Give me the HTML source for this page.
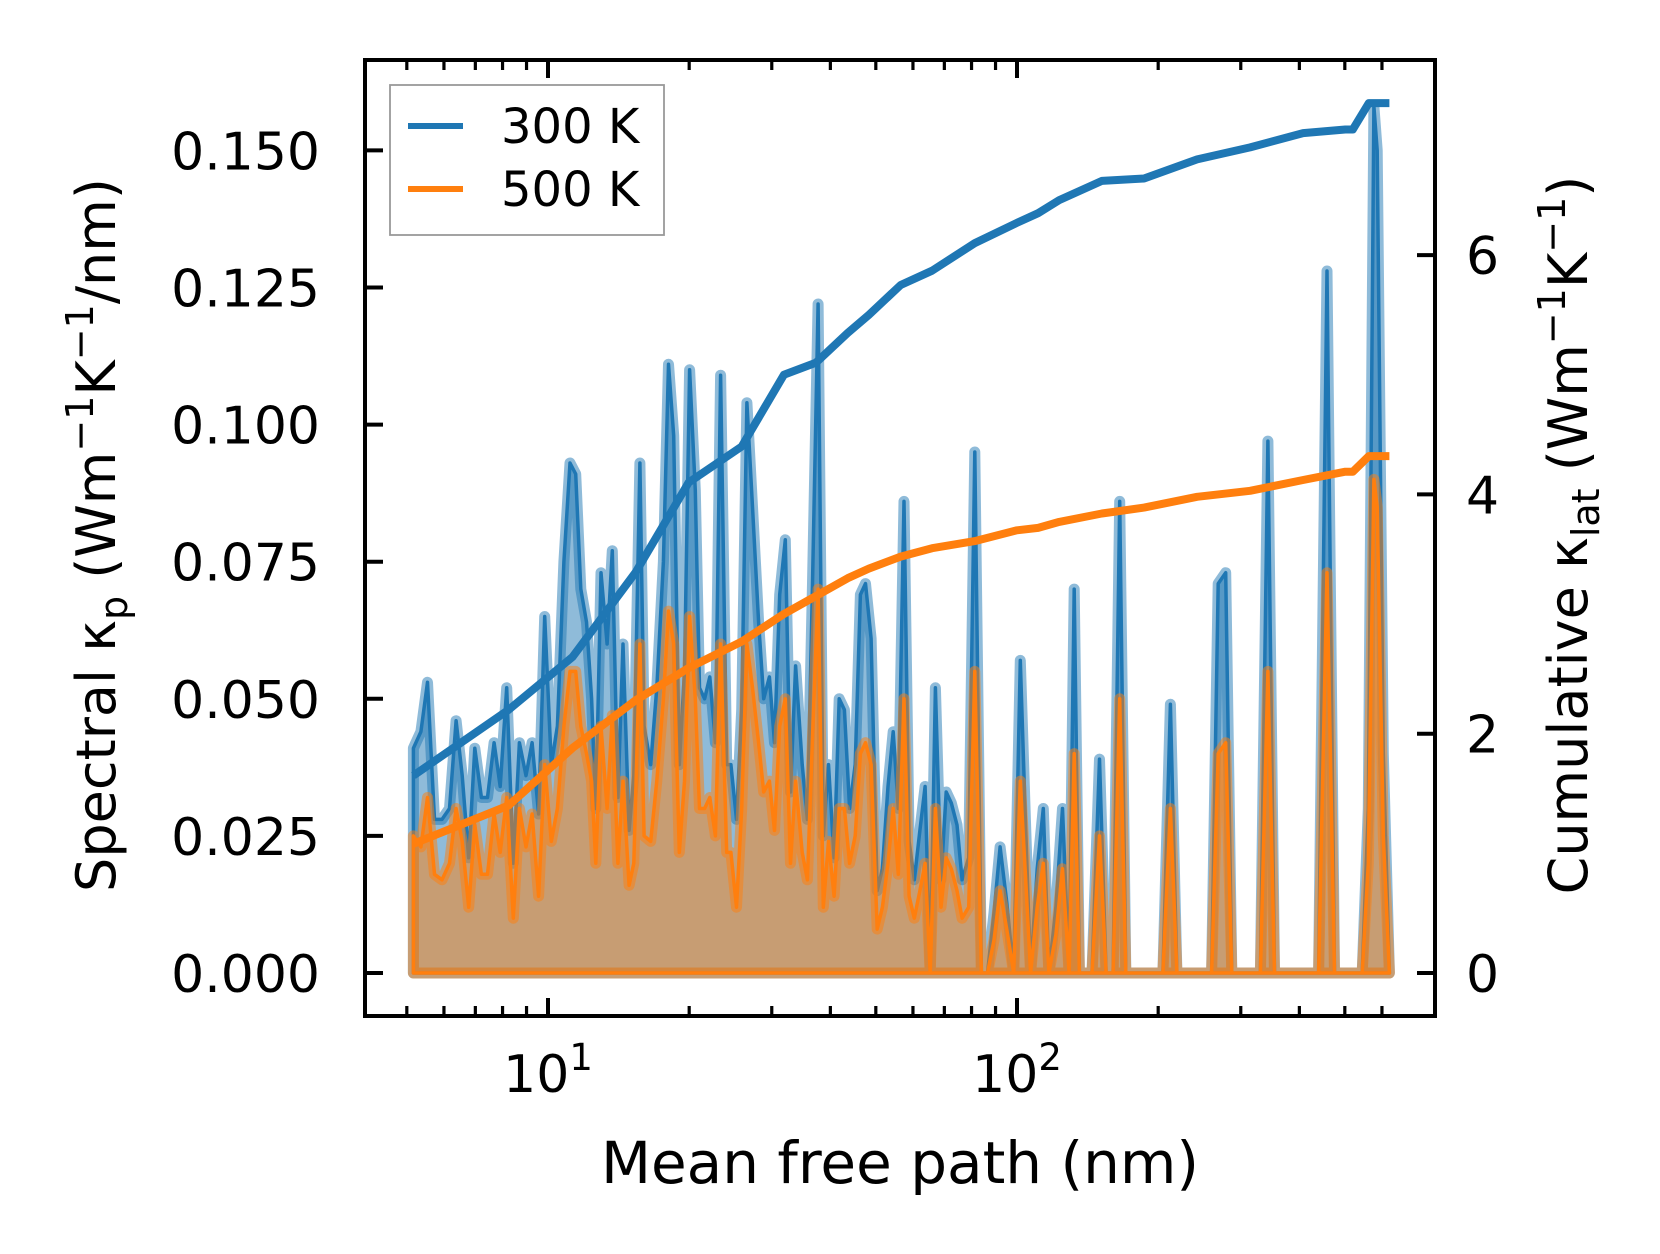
<!DOCTYPE html>
<html><head><meta charset="utf-8"><style>
body{margin:0;background:#fff;}
svg{display:block;font-family:"DejaVu Sans","Liberation Sans",sans-serif;}
</style></head><body>
<svg id="chart" width="1660" height="1254" viewBox="0 0 1660 1254" xmlns="http://www.w3.org/2000/svg">
<g id="plot"></g>
</svg>
<script>
// log10 of mean free path (nm) for spectral points
const mfpExp = [.713,.729,.743,.758,.774,.790,.804,.817,.831,.844,.858,.871,.885,.898,.912,.926,.939,.953,.966,.980,.993,1.007,1.020,1.034,1.047,1.059,1.070,1.082,1.093,1.102,1.113,1.126,1.137,1.149,1.160,1.173,1.183,1.196,1.205,1.219,1.232,1.246,1.257,1.268,1.280,1.291,1.302,1.314,1.323,1.334,1.345,1.357,1.368,1.381,1.390,1.402,1.413,1.424,1.436,1.449,1.460,1.472,1.483,1.494,1.506,1.517,1.528,1.542,1.553,1.564,1.576,1.587,1.598,1.610,1.621,1.632,1.643,1.655,1.666,1.677,1.689,1.702,1.713,1.725,1.736,1.747,1.759,1.770,1.781,1.793,1.804,1.815,1.826,1.838,1.849,1.860,1.872,1.883,1.897,1.910,1.924,1.937,1.951,1.964,1.978,1.993,2.007,2.018,2.029,2.043,2.056,2.068,2.083,2.097,2.111,2.122,2.133,2.160,2.176,2.190,2.205,2.219,2.232,2.311,2.327,2.341,2.415,2.429,2.445,2.458,2.519,2.535,2.549,2.643,2.661,2.677,2.736,2.749,2.761,2.768,2.781,2.794];
const spec300 = [.041,.044,.053,.028,.028,.030,.046,.036,.021,.041,.032,.032,.042,.034,.052,.020,.042,.036,.042,.029,.065,.038,.045,.075,.093,.091,.070,.064,.050,.030,.073,.060,.077,.032,.060,.026,.036,.093,.045,.038,.052,.075,.111,.098,.038,.055,.110,.088,.052,.050,.054,.042,.109,.038,.038,.028,.048,.104,.085,.064,.050,.054,.042,.069,.079,.033,.056,.038,.028,.071,.122,.025,.038,.021,.050,.048,.030,.038,.069,.071,.061,.015,.019,.034,.044,.030,.086,.024,.017,.026,.034,0,.052,.017,.033,.031,.027,.017,.021,.095,0,0,.011,.023,.013,0,.057,.028,0,.019,.030,0,.012,.030,0,.070,0,0,.039,0,0,.086,0,0,.049,0,0,.071,.073,0,0,.097,0,0,.128,0,0,.030,.158,.150,.040,0];
const spec500 = [.025,.023,.032,.018,.017,.020,.030,.024,.012,.027,.018,.018,.029,.022,.032,.010,.030,.023,.029,.014,.038,.024,.030,.045,.055,.055,.045,.040,.035,.020,.045,.030,.047,.020,.035,.016,.020,.060,.025,.024,.035,.050,.066,.060,.022,.035,.065,.050,.030,.030,.032,.025,.060,.022,.022,.012,.030,.060,.052,.042,.033,.035,.026,.045,.050,.020,.035,.022,.017,.043,.070,.012,.024,.014,.030,.030,.020,.025,.040,.042,.038,.008,.012,.020,.030,.018,.050,.014,.010,.015,.020,0,.030,.012,.021,.019,.015,.010,.012,.055,0,0,.006,.015,.008,0,.035,.018,0,.012,.020,0,.007,.019,0,.040,0,0,.025,0,0,.050,0,0,.030,0,0,.040,.042,0,0,.055,0,0,.073,0,0,.020,.090,.085,.025,0];
// cumulative kappa
const cumExp = [.713,.916,1.052,1.187,1.300,1.413,1.503,1.571,1.639,1.684,1.752,1.819,1.910,2.000,2.045,2.090,2.181,2.271,2.384,2.497,2.610,2.700,2.716,2.750,2.794];
const cum300 = [1.65,2.2,2.64,3.35,4.1,4.4,5.0,5.1,5.35,5.5,5.75,5.87,6.1,6.27,6.35,6.46,6.62,6.64,6.8,6.9,7.02,7.05,7.05,7.27,7.27];
const cum500 = [1.08,1.4,1.88,2.28,2.55,2.77,3.0,3.15,3.3,3.38,3.48,3.55,3.61,3.7,3.72,3.77,3.84,3.89,3.98,4.03,4.12,4.19,4.19,4.32,4.32];
const yTicks = [0,0.025,0.05,0.075,0.1,0.125,0.15];
const yTickLabels = ["0.000","0.025","0.050","0.075","0.100","0.125","0.150"];
const y2Ticks = [0,2,4,6];

const L=365,R=1435,T=60,B=1016;
const X = e => 548 + (e-1)*469;
const Y = v => 973 - v/0.025*137.1;
const Y2 = v => 973 - v/2*239.3;
const NS="http://www.w3.org/2000/svg";
const g=document.getElementById('plot');
function mk(tag,attrs,parent){const e=document.createElementNS(NS,tag);for(const k in attrs)e.setAttribute(k,attrs[k]);(parent||g).appendChild(e);return e;}

function specPath(vals){
  let d=`M${X(mfpExp[0])},${Y(0)}`;
  vals.forEach((v,i)=>{d+=`L${X(mfpExp[i]).toFixed(1)},${Y(v).toFixed(1)}`;});
  d+=`L${X(mfpExp[mfpExp.length-1])},${Y(0)}Z`;return d;}
function linePath(xs,vals,fy){return xs.map((e,i)=>(i?'L':'M')+X(e).toFixed(1)+','+fy(vals[i]).toFixed(1)).join('');}

let p=mk('path',{d:specPath(spec300),fill:'#1f77b4','fill-opacity':0.5,stroke:'#1f77b4','stroke-opacity':0.5,'stroke-width':11,'stroke-linejoin':'round'});


p=mk('path',{d:specPath(spec300),fill:'none',stroke:'#1f77b4','stroke-width':3.5,'stroke-linejoin':'round'});


p=mk('path',{d:specPath(spec500),fill:'#ff7f0e','fill-opacity':0.5,stroke:'#ff7f0e','stroke-opacity':0.5,'stroke-width':11,'stroke-linejoin':'round'});


p=mk('path',{d:specPath(spec500),fill:'none',stroke:'#ff7f0e','stroke-width':3.5,'stroke-linejoin':'round'});


p=mk('path',{d:linePath(cumExp,cum300,Y2),fill:'none',stroke:'#1f77b4','stroke-width':8,'stroke-linejoin':'round'});


p=mk('path',{d:linePath(cumExp,cum500,Y2),fill:'none',stroke:'#ff7f0e','stroke-width':8,'stroke-linejoin':'round'});



const fr=mk('rect',{x:L,y:T,width:R-L,height:B-T,fill:'none',stroke:'#000','stroke-width':4});



const majors=[1,2];
const minorsE=[];
[5,6,7,8,9].forEach(m=>minorsE.push(Math.log10(m)));
[20,30,40,50,60,70,80,90].forEach(m=>minorsE.push(Math.log10(m)));
[200,300,400,500,600].forEach(m=>minorsE.push(Math.log10(m)));
minorsE.forEach(e=>{const x=X(e);
  mk('line',{x1:x,x2:x,y1:B,y2:B-10,stroke:'#000','stroke-width':3.2});
  mk('line',{x1:x,x2:x,y1:T,y2:T+10,stroke:'#000','stroke-width':3.2});});
majors.forEach(e=>{const x=X(e);
  mk('line',{x1:x,x2:x,y1:B,y2:B-18,stroke:'#000','stroke-width':4});
  mk('line',{x1:x,x2:x,y1:T,y2:T+18,stroke:'#000','stroke-width':4});
  const t=mk('text',{x:x,y:1092,'font-size':52,'text-anchor':'middle'});
  
  
  t.innerHTML=`10<tspan dy="-22" font-size="37">${e}</tspan>`;});

yTicks.forEach((v,i)=>{const y=Y(v);
  mk('line',{x1:L,x2:L+18,y1:y,y2:y,stroke:'#000','stroke-width':4});
  const t=mk('text',{x:320,y:y+19,'font-size':52,'text-anchor':'end'});
  
  
  t.textContent=yTickLabels[i];});
y2Ticks.forEach(v=>{const y=Y2(v);
  mk('line',{x1:R,x2:R-18,y1:y,y2:y,stroke:'#000','stroke-width':4});
  const t=mk('text',{x:1466,y:y+19,'font-size':52,'text-anchor':'start'});
  
  
  t.textContent=String(v);});

let t=mk('text',{x:900,y:1183,'font-size':58,'text-anchor':'middle'});


t.textContent='Mean free path (nm)';
t=mk('text',{x:0,y:0,'font-size':54,'text-anchor':'middle',transform:'translate(115,535) rotate(-90)'});


t.innerHTML='Spectral κ<tspan dy="12" font-size="38">p</tspan><tspan dy="-12"> (Wm</tspan><tspan dy="-22" font-size="38">−1</tspan><tspan dy="22">K</tspan><tspan dy="-22" font-size="38">−1</tspan><tspan dy="22">/nm)</tspan>';
t=mk('text',{x:0,y:0,'font-size':54,'text-anchor':'middle',transform:'translate(1587,535) rotate(-90)'});


t.innerHTML='Cumulative κ<tspan dy="12" font-size="38">lat</tspan><tspan dy="-12"> (Wm</tspan><tspan dy="-22" font-size="38">−1</tspan><tspan dy="22">K</tspan><tspan dy="-22" font-size="38">−1</tspan><tspan dy="22">)</tspan>';

const lg=mk('g',{});


mk('rect',{x:390,y:85,width:274,height:150,fill:'#fff','fill-opacity':0.8,stroke:'#999','stroke-width':1.8},lg);
[['300 K','#1f77b4',126],['500 K','#ff7f0e',189]].forEach(([lab,c,y])=>{
  const e=mk('g',{},lg);
  
  
  mk('line',{x1:408,x2:463,y1:y,y2:y,stroke:c,'stroke-width':6},e);
  const tx=mk('text',{x:501,y:y+17,'font-size':48},e);
  tx.textContent=lab;});
</script>
</body></html>
